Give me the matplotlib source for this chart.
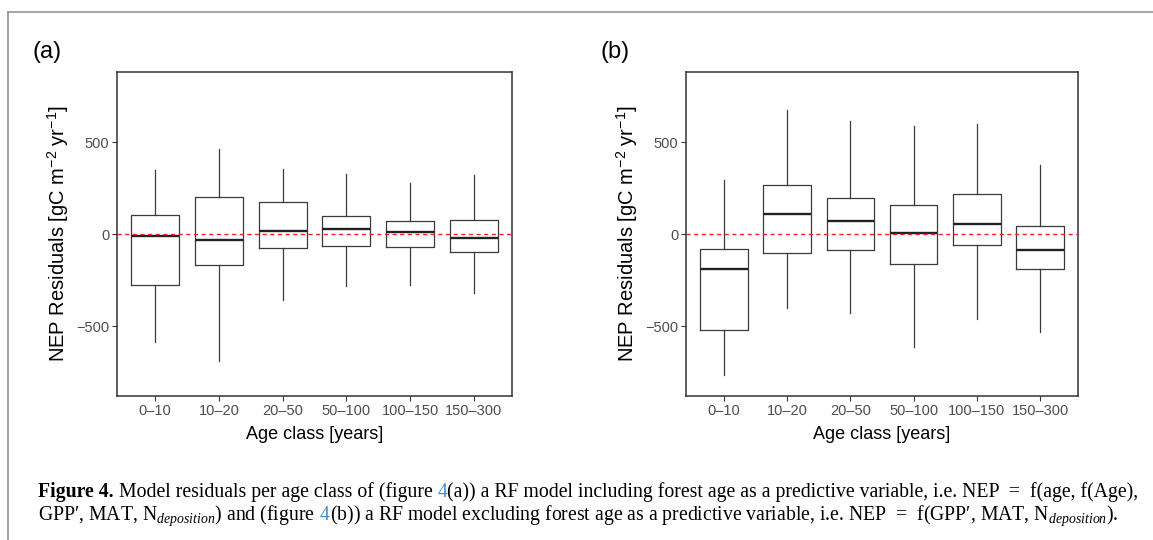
import matplotlib
matplotlib.use('Agg')
import matplotlib.pyplot as plt
from matplotlib.lines import Line2D

# Age classes (x categories)
AGE_CLASSES = ['0\u201310', '10\u201320', '20\u201350', '50\u2013100', '100\u2013150', '150\u2013300']

# Panel (a): RF model including forest age
A_LO = [-587, -692, -359, -284, -279, -321]
A_Q1 = [-279, -167, -76, -62, -71, -96]
A_MED = [-11, -31, 16, 29, 11, -22]
A_Q3 = [103, 203, 176, 100, 74, 76]
A_HI = [348, 462, 355, 330, 277, 322]

# Panel (b): RF model excluding forest age
B_LO = [-768, -404, -426, -612, -462, -533]
B_Q1 = [-522, -103, -85, -163, -58, -187]
B_MED = [-187, 110, 74, 7, 56, -85]
B_Q3 = [-78, 270, 196, 156, 221, 43]
B_HI = [295, 678, 618, 589, 598, 377]

Y_TICKS = [-500, 0, 500]

W, H = 1153, 540
plt.rcParams['font.family'] = ['Liberation Sans', 'DejaVu Sans']
plt.rcParams['mathtext.fontset'] = 'custom'
plt.rcParams['mathtext.rm'] = 'Liberation Serif'
plt.rcParams['mathtext.it'] = 'Liberation Serif:italic'
plt.rcParams['mathtext.bf'] = 'Liberation Serif:bold'
plt.rcParams['mathtext.sf'] = 'Liberation Sans'

fig = plt.figure(figsize=(W / 100, H / 100), dpi=100)


def px_axes(left, top, right, bottom):
    return fig.add_axes([left / W, 1 - bottom / H, (right - left) / W, (bottom - top) / H])


def draw_panel(ax, lo, q1, med, q3, hi):
    stats = [dict(whislo=a, q1=b, med=c, q3=d, whishi=e, fliers=[])
             for a, b, c, d, e in zip(lo, q1, med, q3, hi)]
    pos = list(range(1, len(AGE_CLASSES) + 1))
    ax.axhline(0, color='#ff2020', linestyle=(0, (3, 2.5)), linewidth=1.0, zorder=3)
    ax.bxp(stats, positions=pos, widths=0.75, showcaps=False, showfliers=False,
           boxprops=dict(color='#3a3a3a', linewidth=0.9),
           whiskerprops=dict(color='#3a3a3a', linewidth=0.9),
           medianprops=dict(color='#222222', linewidth=1.7))
    ax.set_xlim(0.4, 6.6)
    ax.set_ylim(-880, 882)
    ax.set_xticks(pos)
    ax.set_xticklabels(AGE_CLASSES)
    ax.set_yticks(Y_TICKS)
    ax.set_yticklabels(['\u2212500', '0', '500'])
    ax.tick_params(direction='out', length=3.5, width=0.8, color='#333333',
                   labelcolor='#4d4d4d', labelsize=10.5, pad=2)
    for s in ax.spines.values():
        s.set_color('#333333')
        s.set_linewidth(1.1)
    ax.set_xlabel('Age class [years]', fontsize=13, labelpad=6)
    ax.set_ylabel(r'NEP Residuals [gC m$^{\mathsf{-2}}$ yr$^{\mathsf{-1}}$]',
                  fontsize=14.5, labelpad=4)


ax_a = px_axes(117, 72, 512, 396)
ax_b = px_axes(686, 72, 1078, 396)
draw_panel(ax_a, A_LO, A_Q1, A_MED, A_Q3, A_HI)
draw_panel(ax_b, B_LO, B_Q1, B_MED, B_Q3, B_HI)

fig.text(32 / W, 1 - 52 / H, '(a)', fontsize=17, va='center', ha='left')
fig.text(601 / W, 1 - 52 / H, '(b)', fontsize=17, va='center', ha='left')

# gray frame (only top and left edges are visible in the crop)
fig.add_artist(Line2D([8 / W, 1], [1 - 12 / H, 1 - 12 / H], color='#8c8c8c', linewidth=1.1))
fig.add_artist(Line2D([8 / W, 8 / W], [0, 1 - 12 / H], color='#8c8c8c', linewidth=1.1))

# caption, written piece by piece so the figure number can be coloured
renderer = fig.canvas.get_renderer()
CAP_SIZE = 14.2
BLUE = '#3a8fd4'


def caption_line(pieces, x0, y0):
    x = x0
    for txt, weight, color in pieces:
        t = fig.text(x / W, 1 - y0 / H, txt, fontsize=CAP_SIZE, family='Liberation Serif',
                     fontweight=weight, color=color, va='baseline', ha='left')
        x += t.get_window_extent(renderer).width


caption_line([
    ('Figure 4.', 'bold', 'black'),
    (' Model residuals per age class of (figure ', 'normal', 'black'),
    ('4', 'normal', BLUE),
    ('(a)) a RF model including forest age as a predictive variable, i.e. NEP  =  f(age, f(Age),',
     'normal', 'black'),
], 38, 497)
caption_line([
    (r'GPP$\prime$, MAT, N$_{\mathit{deposition}}$) and (figure', 'normal', 'black'),
    (' 4', 'normal', BLUE),
    (r'(b)) a RF model excluding forest age as a predictive variable, i.e. NEP  =  '
     r'f(GPP$\prime$, MAT, N$_{\mathit{deposition}}$).', 'normal', 'black'),
], 38, 520)

fig.savefig('out.png', dpi=100)
